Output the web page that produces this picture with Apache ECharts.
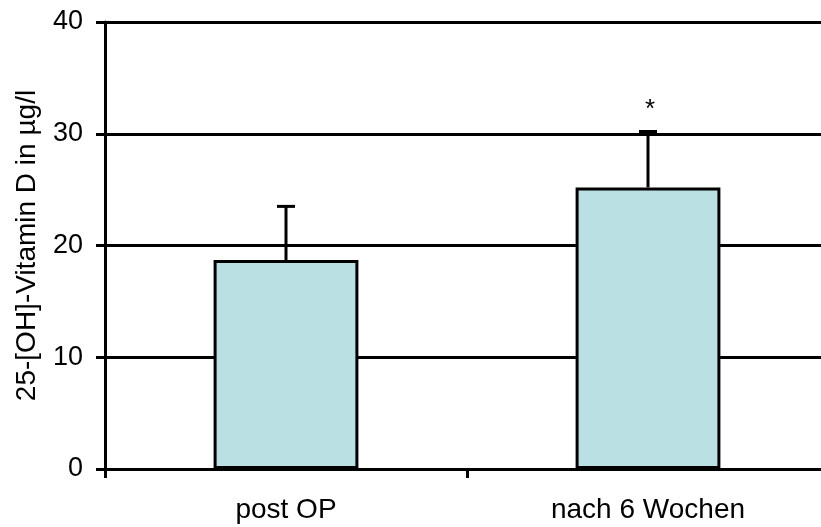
<!DOCTYPE html>
<html>
<head>
<meta charset="utf-8">
<script src="https://cdn.jsdelivr.net/npm/echarts@6/dist/echarts.min.js"></script>
<style>
  html, body { margin: 0; padding: 0; background: #fff; overflow: hidden; }
  #chart { width: 829px; height: 527px; }
</style>
</head>
<body>
<div id="chart"></div>
<script>
// Serum 25-(OH)-vitamin D, mean with upward SD whisker
const categories = ['post OP', 'nach 6 Wochen'];
const means = [18.7, 25.2];
const errorTops = [23.5, 30.2];
const marks = ['', '*'];
const yTicks = [0, 10, 20, 30, 40];

const chart = echarts.init(document.getElementById('chart'));
const font = 'Liberation Sans, Arial, sans-serif';

chart.setOption({
  animation: false,
  grid: { left: 105, right: 0, top: 22, bottom: 58 },
  xAxis: {
    type: 'category',
    data: categories,
    axisLine: { lineStyle: { color: '#000', width: 3 } },
    axisTick: { show: true, length: 9, lineStyle: { color: '#000', width: 3 } },
    axisLabel: { color: '#000', fontSize: 28, fontFamily: font, margin: 27 }
  },
  yAxis: {
    type: 'value',
    min: yTicks[0],
    max: yTicks[yTicks.length - 1],
    interval: 10,
    name: '25-[OH]-Vitamin D in µg/l',
    nameLocation: 'middle',
    nameGap: 64,
    nameTextStyle: { color: '#000', fontSize: 28, fontFamily: font },
    axisLine: { show: true, lineStyle: { color: '#000', width: 3 } },
    axisTick: { show: true, length: 9, lineStyle: { color: '#000', width: 3 } },
    axisLabel: { color: '#000', fontSize: 27, fontFamily: font, margin: 22 },
    splitLine: { show: true, lineStyle: { color: '#000', width: 3 } }
  },
  series: [
    {
      type: 'bar',
      data: means,
      barWidth: '40%',
      itemStyle: { color: '#bbe0e3', borderColor: '#000', borderWidth: 3 },
      z: 2
    },
    {
      type: 'custom',
      z: 3,
      data: categories.map((c, i) => [i, means[i], errorTops[i]]),
      renderItem: function (params, api) {
        const base = api.coord([api.value(0), api.value(1)]);
        const top = api.coord([api.value(0), api.value(2)]);
        const cap = 9;
        const children = [
          { type: 'line', shape: { x1: base[0], y1: base[1], x2: top[0], y2: top[1] },
            style: { stroke: '#000', lineWidth: 3 } },
          { type: 'line', shape: { x1: top[0] - cap, y1: top[1], x2: top[0] + cap, y2: top[1] },
            style: { stroke: '#000', lineWidth: 3 } }
        ];
        const m = marks[params.dataIndex];
        if (m) {
          children.push({ type: 'text', style: { text: m, x: top[0] + 2, y: top[1] - 22,
            align: 'center', verticalAlign: 'middle', fill: '#000', fontSize: 26, fontFamily: font } });
        }
        return { type: 'group', children: children };
      }
    }
  ]
});
</script>
</body>
</html>
